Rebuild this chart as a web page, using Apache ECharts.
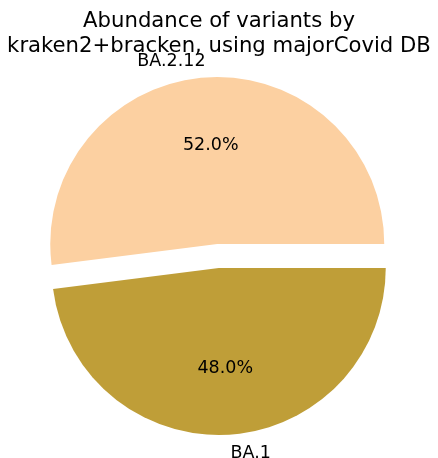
<!DOCTYPE html>
<html><head><meta charset="utf-8">
<script src="https://cdn.jsdelivr.net/npm/echarts@6/dist/echarts.min.js"></script>
<style>html,body{margin:0;padding:0;background:#fff}#c{width:438px;height:458px}</style>
</head><body><div id="c"></div>
<script>
const titleLines = ['Abundance of variants by', 'kraken2+bracken, using majorCovid DB'];
const categories = ['BA.2.12', 'BA.1'];
const values = [52.0, 48.0];
const colors = ['#FCD0A1', '#BF9E38'];

const R = 167, CX = 218, CY = 256, OFF = 12;
const FONT = 'DejaVu Sans';
const total = values.reduce((a, b) => a + b, 0);

function baseSeries(radius) {
  return {
    type: 'pie', center: [CX, CY], radius: radius,
    startAngle: 0, clockwise: false, avoidLabelOverlap: false,
    selectedMode: 'multiple', selectedOffset: OFF,
    emphasis: { disabled: true }, silent: true, animation: false,
    labelLine: { show: false }
  };
}

const chart = echarts.init(document.getElementById('c'), null, { renderer: 'canvas' });
chart.setOption({
  backgroundColor: '#fff',
  title: {
    text: titleLines.join('\n'), left: 'center', top: 9, padding: [0, 0, 0, 4],
    textStyle: { fontFamily: FONT, fontSize: 21.2, fontWeight: 'normal', color: '#000', lineHeight: 24.8 }
  },
  series: [
    Object.assign(baseSeries(R), {
      data: categories.map((c, i) => ({ name: c, value: values[i], selected: true, itemStyle: { color: colors[i] } })),
      label: { show: false }
    }),
    Object.assign(baseSeries(R * 1.2), {
      data: categories.map((c, i) => ({ name: c, value: values[i], selected: true, itemStyle: { color: 'transparent' } })),
      label: {
        show: true, position: 'inside', fontFamily: FONT, fontSize: 17.5, color: '#000',
        formatter: p => (p.value / total * 100).toFixed(1) + '%'
      },
      labelLayout: function (p) {
        return { dy: p.dataIndex === 0 ? 4 : -3 };
      }
    }),
    Object.assign(baseSeries(R * 2.2), {
      data: categories.map((c, i) => ({ name: c, value: values[i], selected: true, itemStyle: { color: 'transparent' } })),
      label: {
        show: true, position: 'inside', fontFamily: FONT, fontSize: 17.5, color: '#000',
        formatter: p => p.name
      },
      labelLayout: function (p) {
        const w = p.labelRect.width;
        return p.dataIndex === 0 ? { dx: -w / 2, dy: 4 } : { dx: w / 2, dy: -1 };
      }
    })
  ]
});
</script></body></html>
